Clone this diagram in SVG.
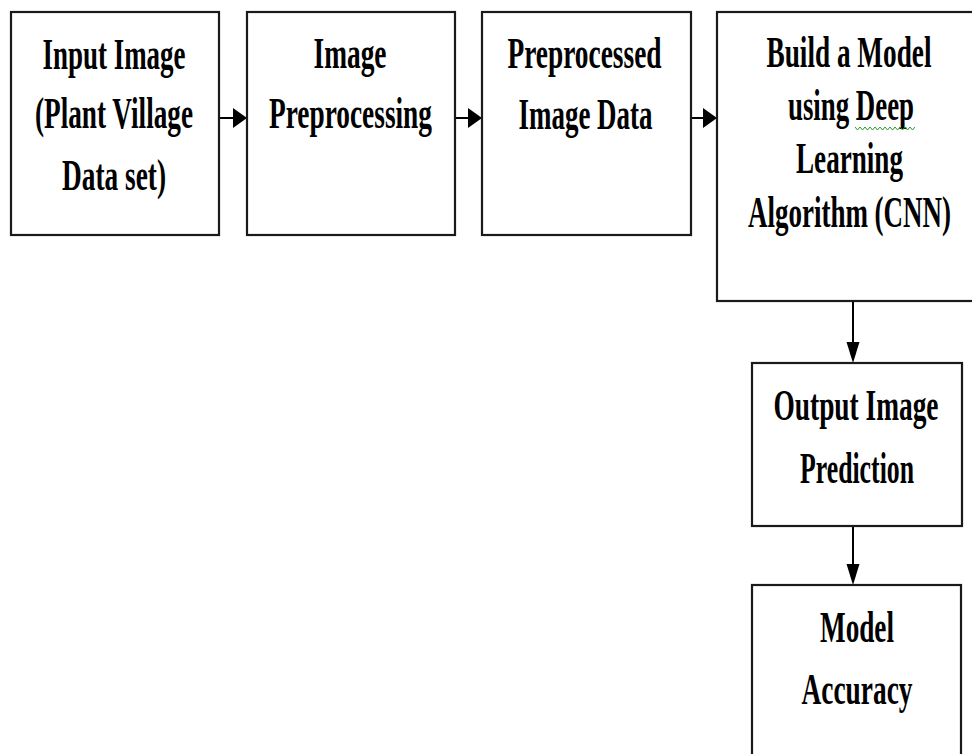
<svg xmlns="http://www.w3.org/2000/svg" width="972" height="754" viewBox="0 0 972 754">
<defs>
<style>
.box{fill:#fff;stroke:#1a1a1a;stroke-width:2.2}
.lbl{font-family:"Liberation Serif","Times New Roman",serif;font-weight:bold;font-size:45px;fill:#000;text-anchor:middle}
.con{stroke:#000;stroke-width:2;fill:none}
.head{fill:#000}
</style>
</defs>
<rect width="972" height="754" fill="#fff"/>
<g id="connectors">
<line class="con" x1="219" y1="118" x2="236" y2="118"/>
<polygon class="head" points="247,118 233,108 233,128"/>
<line class="con" x1="455" y1="118" x2="472" y2="118"/>
<polygon class="head" points="482,118 468,108 468,128"/>
<line class="con" x1="691" y1="118" x2="708" y2="118"/>
<polygon class="head" points="717,118 703,108 703,128"/>
<line class="con" x1="853" y1="301" x2="853" y2="345"/>
<polygon class="head" points="853,363 846.5,342 859.5,342"/>
<line class="con" x1="853" y1="526" x2="853" y2="568"/>
<polygon class="head" points="853,585 846.5,564 859.5,564"/>
</g>
<g id="node-input">
<rect class="box" x="11" y="12" width="208" height="223"/>
<text class="lbl" x="114" y="69" textLength="143" lengthAdjust="spacingAndGlyphs">Input Image</text>
<text class="lbl" x="114" y="128" textLength="158" lengthAdjust="spacingAndGlyphs">(Plant Village</text>
<text class="lbl" x="114" y="190" textLength="104" lengthAdjust="spacingAndGlyphs">Data set)</text>
</g>
<g id="node-preprocessing">
<rect class="box" x="247" y="12" width="208" height="223"/>
<text class="lbl" x="350" y="68" textLength="73" lengthAdjust="spacingAndGlyphs">Image</text>
<text class="lbl" x="350.5" y="128" textLength="163" lengthAdjust="spacingAndGlyphs">Preprocessing</text>
</g>
<g id="node-preprocessed">
<rect class="box" x="482" y="12" width="209" height="223"/>
<text class="lbl" x="584.5" y="68" textLength="154" lengthAdjust="spacingAndGlyphs">Preprocessed</text>
<text class="lbl" x="585.5" y="129" textLength="134" lengthAdjust="spacingAndGlyphs">Image Data</text>
</g>
<g id="node-model">
<rect class="box" x="717" y="12" width="270" height="289"/>
<text class="lbl" x="849" y="67" textLength="165" lengthAdjust="spacingAndGlyphs">Build a Model</text>
<text class="lbl" x="851" y="120" textLength="126" lengthAdjust="spacingAndGlyphs">using Deep</text>
<path d="M855,127 l2.5,3 l2.5,-3 l2.5,3 l2.5,-3 l2.5,3 l2.5,-3 l2.5,3 l2.5,-3 l2.5,3 l2.5,-3 l2.5,3 l2.5,-3 l2.5,3 l2.5,-3 l2.5,3 l2.5,-3 l2.5,3 l2.5,-3 l2.5,3 l2.5,-3 l2.5,3 l2.5,-3 l2.5,3 l2.5,-3" fill="none" stroke="#2a9a2a" stroke-width="1"/>
<text class="lbl" x="849.5" y="173" textLength="107" lengthAdjust="spacingAndGlyphs">Learning</text>
<text class="lbl" x="849.5" y="227" textLength="203" lengthAdjust="spacingAndGlyphs">Algorithm (CNN)</text>
</g>
<g id="node-output">
<rect class="box" x="752" y="363" width="210" height="163"/>
<text class="lbl" x="856" y="420" textLength="165" lengthAdjust="spacingAndGlyphs">Output Image</text>
<text class="lbl" x="857" y="483" textLength="114" lengthAdjust="spacingAndGlyphs">Prediction</text>
</g>
<g id="node-accuracy">
<rect class="box" x="752" y="585" width="209" height="190"/>
<text class="lbl" x="857" y="642" textLength="74" lengthAdjust="spacingAndGlyphs">Model</text>
<text class="lbl" x="857" y="704" textLength="111" lengthAdjust="spacingAndGlyphs">Accuracy</text>
</g>
</svg>
